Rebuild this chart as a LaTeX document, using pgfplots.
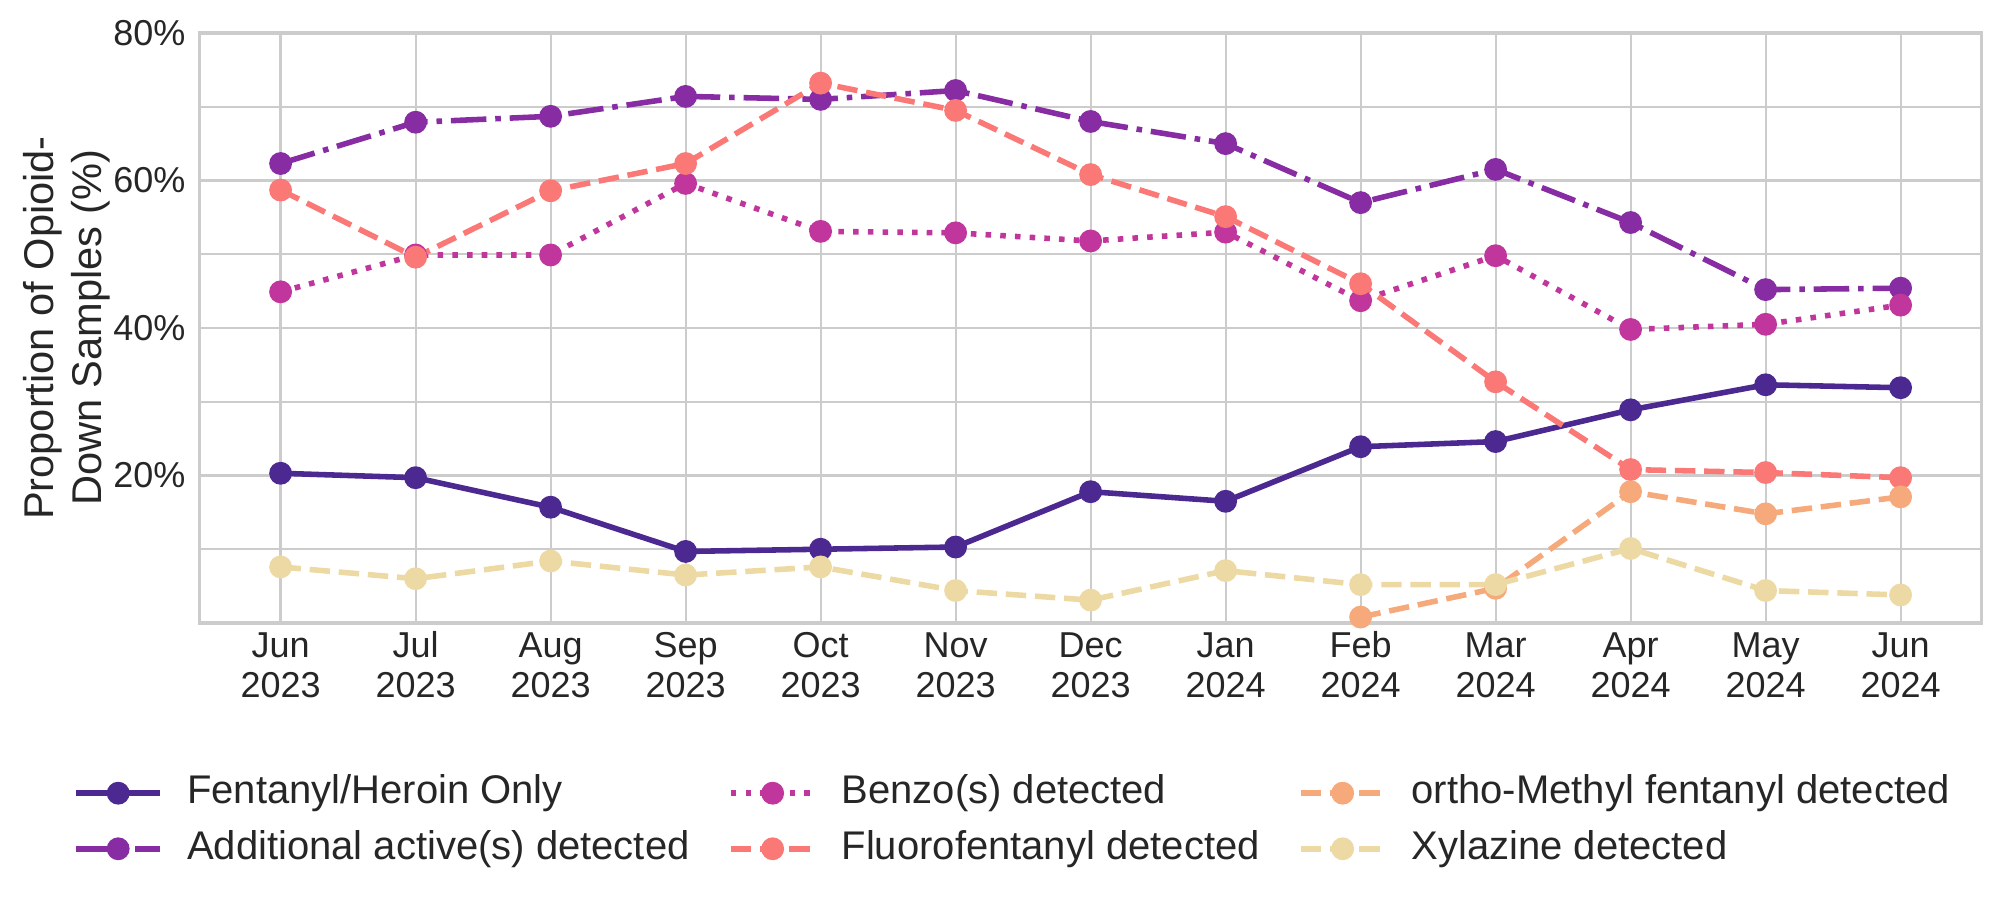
\documentclass[border=0pt]{standalone}
\usepackage{fontspec}
\setmainfont{Liberation Sans}
\usepackage{pgfplots}
\usepackage{pgfplotstable}
\pgfplotsset{compat=1.18}
\definecolor{c0}{RGB}{75,41,145}
\definecolor{c1}{RGB}{135,44,162}
\definecolor{c2}{RGB}{192,54,157}
\definecolor{c4}{RGB}{250,120,118}
\definecolor{c5}{RGB}{246,169,122}
\definecolor{c6}{RGB}{237,217,163}
\definecolor{gridc}{RGB}{204,204,204}
\definecolor{txt}{RGB}{38,38,38}

\pgfplotstableread{
x fen add benzo fluoro xyl
0  20.3 62.3 44.9 58.7 7.6
1  19.7 67.9 49.9 49.6 6.0
2  15.7 68.7 49.9 58.6 8.4
3  9.7  71.4 59.6 62.3 6.5
4  10.0 71.0 53.1 73.2 7.6
5  10.3 72.2 52.9 69.5 4.4
6  17.8 68.0 51.8 60.8 3.1
7  16.5 65.0 53.0 55.1 7.1
8  23.9 57.0 43.7 46.0 5.2
9  24.6 61.5 49.8 32.7 5.2
10 28.9 54.3 39.8 20.8 10.1
11 32.3 45.2 40.5 20.4 4.4
12 31.9 45.4 43.1 19.7 3.8
}\datatable
\pgfplotstableread{
x ortho
8  0.8
9  4.7
10 17.8
11 14.8
12 17.1
}\orthotable

\pgfplotsset{
  base/.style={line width=1.39pt, line cap=butt, mark=*, mark size=2.15pt},
  sfen/.style={base, c0, solid, mark options={solid, draw=none, fill=c0}},
  sadd/.style={base, c1, dash pattern=on 8.88pt off 2.22pt on 1.39pt off 2.22pt, mark options={solid, draw=none, fill=c1}},
  sbenzo/.style={base, c2, dash pattern=on 1.39pt off 2.29pt, mark options={solid, draw=none, fill=c2}},
  sfluoro/.style={base, c4, dash pattern=on 5.1pt off 2.2pt, mark options={solid, draw=none, fill=c4}},
  sortho/.style={base, c5, dash pattern=on 5.1pt off 2.2pt, mark options={solid, draw=none, fill=c5}},
  sxyl/.style={base, c6, dash pattern=on 5.1pt off 2.2pt, mark options={solid, draw=none, fill=c6}},
}

\begin{document}
\begin{tikzpicture}
\useasboundingbox (0,0) rectangle (500pt,226.5pt);
\begin{axis}[
  at={(49.9pt,70.75pt)}, anchor=south west, scale only axis,
  width=445.5pt, height=147.5pt,
  xmin=-0.6, xmax=12.6, ymin=0, ymax=80,
  xtick={0,...,12},
  xticklabels={{\strut Jun\\2023},{\strut Jul\\2023},{\strut Aug\\2023},{\strut Sep\\2023},{\strut Oct\\2023},{\strut Nov\\2023},{\strut Dec\\2023},{\strut Jan\\2024},{\strut Feb\\2024},{\strut Mar\\2024},{\strut Apr\\2024},{\strut May\\2024},{\strut Jun\\2024}},
  ytick={10,20,...,80},
  yticklabels={,20\%,,40\%,,60\%,,80\%},
  grid=major,
  major grid style={draw=gridc, line width=0.55pt},
  axis line style={draw=gridc, line width=0.87pt},
  major tick length=0pt,
  tick style={draw=none},
  ticklabel style={font=\fontsize{9}{10}\selectfont, text=txt},
  xticklabel style={align=center, anchor=north, inner ysep=1.5pt},
  ylabel={Proportion of Opioid-\\Down Samples (\%)},
  ylabel style={font=\fontsize{10.4}{12}\selectfont, text=txt, align=center, at={(axis description cs:-0.0744,0.5)}, anchor=center},
  legend columns=3,
  legend cell align=left,
  legend style={at={(axis description cs:-0.0707,-0.3356)}, anchor=west, draw=none, fill=none, inner sep=0pt, outer sep=0pt,
    font=\fontsize{10}{11}\selectfont, text=txt, row sep=4.7pt,
    nodes={inner sep=0pt, text height=7.2pt, text depth=2pt},
    /tikz/every odd column/.append style={column sep=6.1pt},
    /tikz/every even column/.append style={column sep=9.6pt}},
  legend image code/.code={\draw[mark repeat=2, mark phase=2] plot coordinates {(0pt,0pt) (10.45pt,0pt) (20.9pt,0pt)};},
]
\addlegendimage{sfen}\addlegendentry{Fentanyl/Heroin Only}
\addlegendimage{sbenzo}\addlegendentry{Benzo(s) detected}
\addlegendimage{sortho}\addlegendentry{ortho-Methyl fentanyl detected}
\addlegendimage{sadd}\addlegendentry{Additional active(s) detected}
\addlegendimage{sfluoro}\addlegendentry{Fluorofentanyl detected}
\addlegendimage{sxyl}\addlegendentry{Xylazine detected}

\addplot[sfen, forget plot] table[x=x, y=fen] {\datatable};
\addplot[sadd, forget plot] table[x=x, y=add] {\datatable};
\addplot[sbenzo, forget plot] table[x=x, y=benzo] {\datatable};
\addplot[sfluoro, forget plot] table[x=x, y=fluoro] {\datatable};
\addplot[sortho, forget plot] table[x=x, y=ortho] {\orthotable};
\addplot[sxyl, forget plot] table[x=x, y=xyl] {\datatable};
\end{axis}
\end{tikzpicture}
\end{document}
